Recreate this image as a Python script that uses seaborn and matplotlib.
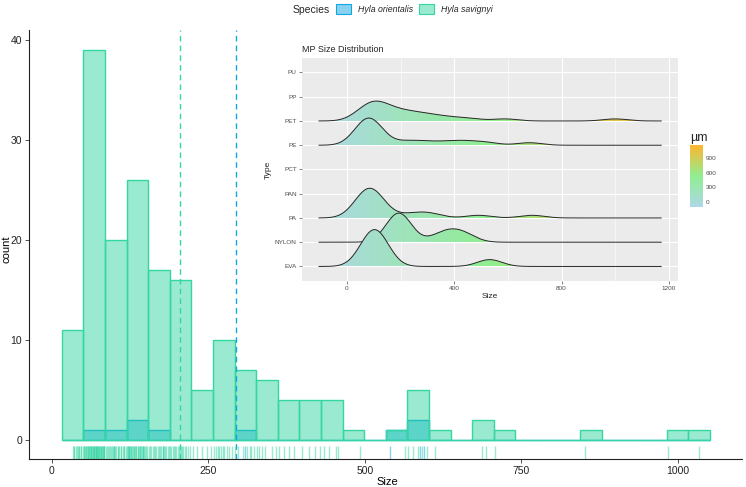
import numpy as np
import pandas as pd
import seaborn as sns
import matplotlib.pyplot as plt
from matplotlib.colors import LinearSegmentedColormap, Normalize, to_rgba
from matplotlib.patches import Patch, Polygon
from matplotlib.cm import ScalarMappable

# particle sizes (um) for each species
hyla_orientalis = [70, 100, 124, 145, 177, 308, 540, 588, 595]
hyla_savignyi = [
    33, 35, 36, 38, 40, 41, 43, 44, 46, 47, 49,
    51, 52, 53, 54, 55, 56, 57, 58, 59, 60,
    61, 62, 62, 63, 64, 65, 66, 67, 68, 68,
    69, 70, 71, 72, 72, 73, 74, 75, 76, 77,
    78, 78, 79, 80, 81, 82, 83, 83, 84,
    86, 88, 90, 91, 93, 95, 96, 98, 100, 101,
    103, 105, 106, 108, 110, 111, 113, 115, 116, 118,
    120, 121, 122, 124, 125, 126, 127, 128, 130,
    131, 132, 133, 134, 135, 137, 138, 139, 140, 141,
    143, 144, 145, 147, 148, 150, 152,
    155, 157, 159, 161, 163, 165, 167, 169, 171, 173, 175, 177, 179, 181, 183, 185, 187,
    189, 191, 193, 195, 197, 199, 201, 203, 205, 206, 208, 210, 213, 214, 218, 220,
    226, 232, 240, 248, 254,
    259, 262, 265, 267, 270, 273, 275, 279, 283, 288,
    293, 298, 305, 312, 316, 318, 323,
    328, 331, 336, 340, 352, 358,
    363, 371, 379, 387,
    399, 410, 420, 428,
    435, 443, 454, 457,
    492, 564,
    569, 577, 585, 591, 599,
    612, 687, 694, 708, 852, 984, 1034,
]
species_names = ["Hyla orientalis", "Hyla savignyi"]
species_colors = ["#12a6e0", "#34d6a2"]

# sizes by polymer type for the inset
type_names = ["EVA", "NYLON", "PA", "PAN", "PCT", "PE", "PET", "PP", "PU"]
size_eva = [70, 85, 97, 108, 120, 135, 532]
size_nylon = [178, 186, 193, 200, 208, 350, 395, 440]
size_pa = [40, 52, 60, 67, 73, 79, 85, 90, 96, 102, 110, 120, 135, 230, 280, 320, 490, 690]
size_pan = []
size_pct = []
size_pe = [45, 55, 62, 68, 73, 78, 83, 88, 94, 101, 110, 122, 215, 260, 330, 400, 450, 520, 680]
size_pet = [45, 60, 72, 82, 92, 100, 108, 116, 126, 138, 150,
            170, 190, 210, 230, 255, 280, 310, 345, 395, 460, 590, 1000]
size_pp = []
size_pu = []
bandwidth = 46
ridge_scale = 1.52

df = pd.DataFrame({
    "Size": hyla_orientalis + hyla_savignyi,
    "Species": [species_names[0]] * len(hyla_orientalis) + [species_names[1]] * len(hyla_savignyi),
})

sns.set_theme(style="white")
plt.rcParams["font.family"] = ["Liberation Sans", "DejaVu Sans"]

fig = plt.figure(figsize=(7.46, 4.87), dpi=100)
ax = fig.add_axes([0.039, 0.0575, 0.956, 0.8805])

# shared bins like ggplot's bins = 30
lo, hi = df["Size"].min(), df["Size"].max()
w = (hi - lo) / 29
edges = np.linspace(lo - w / 2, hi + w / 2, 31)

for name, col in zip(species_names, species_colors):
    n0 = len(ax.patches)
    sns.histplot(data=df[df["Species"] == name], x="Size", bins=edges, ax=ax,
                 color=col, linewidth=1.0, legend=False)
    for p in ax.patches[n0:]:
        p.set_alpha(None)
        p.set_facecolor(to_rgba(col, 0.5))
        p.set_edgecolor(col)

for name, col in zip(species_names, species_colors):
    sub = df[df["Species"] == name]
    sns.rugplot(x=sub["Size"], ax=ax, height=0.03, color=col, alpha=0.5, lw=1.0)
    ax.axvline(sub["Size"].mean(), color=col, ls=(0, (4, 3)), lw=1.0)

ax.set_xlim(-36.4, 1103)
ax.set_ylim(-1.95, 40.95)
ax.set_xticks([0, 250, 500, 750, 1000])
ax.set_yticks([0, 10, 20, 30, 40])
ax.set_xlabel("Size", fontsize=8, color="black")
ax.set_ylabel("count", fontsize=8, color="black")
ax.xaxis.set_label_coords(0.502, -0.054)
ax.xaxis.label.set_va("center")
ax.yaxis.set_label_coords(-0.032, 0.49)
ax.yaxis.label.set_va("center")
ax.tick_params(axis="both", labelsize=7.5, length=3, width=0.6, color="#333333",
               labelcolor="#222222", bottom=True, left=True, pad=2)
for s in ["top", "right"]:
    ax.spines[s].set_visible(False)
for s in ["left", "bottom"]:
    ax.spines[s].set_color("#222222")
    ax.spines[s].set_linewidth(0.8)

# legend on top
fig.text(293 / 746, 1 - 10 / 487, "Species", fontsize=7.5, va="center", ha="left")
handles = [Patch(facecolor=to_rgba(c, 0.5), edgecolor=c, linewidth=0.8) for c in species_colors]
fig.legend(handles, species_names, loc="center left", bbox_to_anchor=(336 / 746, 1 - 9 / 487),
           ncol=2, frameon=False, prop={"style": "italic", "size": 6.3},
           handlelength=1.7, handleheight=1.5, handletextpad=0.8, columnspacing=0.7,
           borderpad=0, borderaxespad=0)

# inset ridgeline plot
axin = fig.add_axes([0.4044, 0.423, 0.5044, 0.458])
axin.set_facecolor("#ebebeb")
cmap = LinearSegmentedColormap.from_list("um", ["#add8e6", "#90ee90", "#ffb52e"])
grid = np.linspace(lo - 3 * bandwidth, hi + 3 * bandwidth, 600)
norm = Normalize(grid[0], grid[-1])

type_sizes = dict(zip(type_names, [size_eva, size_nylon, size_pa, size_pan, size_pct,
                                   size_pe, size_pet, size_pp, size_pu]))
dens = {}
for t, vals in type_sizes.items():
    if len(vals) == 0:
        continue
    v = np.asarray(vals, float)
    z = (grid[:, None] - v[None, :]) / bandwidth
    dens[t] = np.exp(-0.5 * z ** 2).sum(1) / (len(v) * bandwidth * np.sqrt(2 * np.pi))
dmax = max(d.max() for d in dens.values())

gimg = np.linspace(grid[0], grid[-1], 512).reshape(1, -1)
for i in range(len(type_names) - 1, -1, -1):
    t = type_names[i]
    if t not in dens:
        continue
    base = i + 1
    h = dens[t] / dmax * ridge_scale
    top = base + h
    z = 10 + (len(type_names) - i) * 2
    im = axin.imshow(gimg, extent=[grid[0], grid[-1], base, base + h.max()], cmap=cmap,
                     norm=norm, aspect="auto", origin="lower", zorder=z, interpolation="bilinear")
    poly = Polygon(np.column_stack([np.r_[grid, grid[::-1]], np.r_[top, np.full_like(grid, base)]]),
                   closed=True, facecolor="none", edgecolor="none", transform=axin.transData)
    axin.add_patch(poly)
    im.set_clip_path(poly)
    axin.plot(grid, top, color="#262626", lw=0.7, zorder=z + 1)

axin.set_xlim(-169, 1234)
axin.set_ylim(0.4, 9.6)
axin.set_yticks(range(1, 10))
axin.set_yticklabels(type_names)
axin.set_xticks([0, 400, 800, 1200])
axin.set_xticks([200, 600, 1000], minor=True)
axin.set_axisbelow(True)
axin.grid(True, which="major", color="white", lw=0.8)
axin.grid(True, which="minor", axis="x", color="white", lw=0.4)
axin.tick_params(which="major", labelsize=4.6, labelcolor="#4d4d4d", length=2, width=0.5,
                 color="#4d4d4d", bottom=True, left=True, pad=1.5)
axin.tick_params(which="minor", length=0)
for s in axin.spines.values():
    s.set_visible(False)
axin.set_xlabel("Size", fontsize=6, labelpad=1.5)
axin.set_ylabel("Type", fontsize=6, labelpad=2)
axin.set_title("MP Size Distribution", fontsize=6.5, loc="left", pad=4)

cax = fig.add_axes([0.925, 0.5756, 0.017, 0.1267])
cb = fig.colorbar(ScalarMappable(norm=norm, cmap=cmap), cax=cax)
cb.outline.set_visible(False)
cb.set_ticks([0, 300, 600, 900])
cax.tick_params(labelsize=4.6, labelcolor="#4d4d4d", length=2, color="white", direction="in", pad=2)
cax.set_title("\u00b5m", fontsize=9, loc="left", pad=3)

fig.savefig("out.png", dpi=100, facecolor="white")
